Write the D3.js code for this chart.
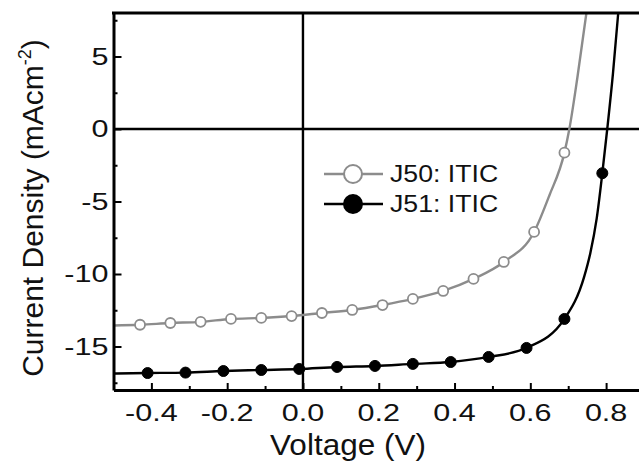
<!DOCTYPE html>
<html>
<head>
<meta charset="utf-8">
<script src="https://cdn.jsdelivr.net/npm/d3@7"></script>
<style>
  html, body { margin: 0; padding: 0; background: #fff; }
  svg { display: block; }
  text { font-family: "Liberation Sans", Arial, Helvetica, sans-serif; fill: #111; }
</style>
</head>
<body>
<svg id="chart" width="639" height="461"></svg>
<script>
// ---- data ----
const j50MarkerV = [-0.43, -0.35, -0.27, -0.19, -0.11, -0.03, 0.05, 0.13, 0.21, 0.29, 0.37, 0.45, 0.53, 0.61, 0.69];
const j50MarkerJ = [-13.5, -13.38, -13.3, -13.1, -13.03, -12.9, -12.69, -12.48, -12.14, -11.72, -11.17, -10.34, -9.17, -7.1, -1.63];
const j50CurveV = [-0.5, -0.43, -0.35, -0.27, -0.19, -0.11, -0.03, 0.05, 0.13, 0.21, 0.29, 0.37, 0.45, 0.53, 0.61, 0.65, 0.69, 0.703, 0.7245, 0.748];
const j50CurveJ = [-13.55, -13.5, -13.38, -13.3, -13.1, -13.03, -12.9, -12.69, -12.48, -12.14, -11.72, -11.17, -10.34, -9.17, -7.1, -4.6, -1.63, 0, 3.6, 8];

const j51MarkerV = [-0.41, -0.31, -0.21, -0.11, -0.01, 0.09, 0.19, 0.29, 0.39, 0.49, 0.59, 0.69, 0.79];
const j51MarkerJ = [-16.83, -16.8, -16.69, -16.62, -16.55, -16.41, -16.34, -16.2, -16.07, -15.72, -15.1, -13.1, -3.05];
const j51CurveV = [-0.5, -0.41, -0.31, -0.21, -0.11, -0.01, 0.09, 0.19, 0.29, 0.39, 0.49, 0.59, 0.69, 0.742, 0.758, 0.775, 0.79, 0.803, 0.818, 0.832];
const j51CurveJ = [-16.86, -16.83, -16.8, -16.69, -16.62, -16.55, -16.41, -16.34, -16.2, -16.07, -15.72, -15.1, -13.1, -10.2, -8.6, -6.2, -3.05, 0, 3.8, 8];

const xTicks = [-0.4, -0.2, 0.0, 0.2, 0.4, 0.6, 0.8];
const xTickLabels = ["-0.4", "-0.2", "0.0", "0.2", "0.4", "0.6", "0.8"];
const xMinorTicks = [-0.5, -0.3, -0.1, 0.1, 0.3, 0.5, 0.7];
const yTicks = [-15, -10, -5, 0, 5];
const yTickLabels = ["-15", "-10", "-5", "0", "5"];
const yMinorTicks = [-17.5, -12.5, -7.5, -2.5, 2.5, 7.5];

const seriesNames = ["J50: ITIC", "J51: ITIC"];
const seriesColors = ["#8c8c8c", "#000000"];

// ---- layout ----
const svg = d3.select("#chart");
const pL = 113.5, pT = 13, pB = 390, pR = 644;
const x = d3.scaleLinear().domain([-0.5, 0.9]).range([pL, pR]);
const y = d3.scaleLinear().domain([-18, 8]).range([pB, pT]);

const plot = svg.append("g");
plot.append("clipPath").attr("id", "clip")
  .append("rect").attr("x", pL).attr("y", pT).attr("width", pR - pL).attr("height", pB - pT);

// zero lines
plot.append("line").attr("x1", pL).attr("x2", pR).attr("y1", y(0)).attr("y2", y(0))
  .attr("stroke", "#000").attr("stroke-width", 2.4);
plot.append("line").attr("x1", x(0)).attr("x2", x(0)).attr("y1", pT).attr("y2", pB)
  .attr("stroke", "#000").attr("stroke-width", 2.4);

// curves
const lineGen = d3.line().x(d => x(d[0])).y(d => y(d[1])).curve(d3.curveMonotoneX);
const curves = [
  d3.zip(j50CurveV, j50CurveJ),
  d3.zip(j51CurveV, j51CurveJ)
];
const dataG = plot.append("g").attr("clip-path", "url(#clip)");
curves.forEach((c, i) => {
  dataG.append("path").datum(c).attr("d", lineGen)
    .attr("fill", "none").attr("stroke", seriesColors[i]).attr("stroke-width", 2.4);
});
// markers
dataG.selectAll("circle.j50").data(d3.zip(j50MarkerV, j50MarkerJ)).enter().append("circle")
  .attr("class", "j50").attr("cx", d => x(d[0])).attr("cy", d => y(d[1])).attr("r", 5)
  .attr("fill", "#fff").attr("stroke", seriesColors[0]).attr("stroke-width", 1.8);
dataG.selectAll("circle.j51").data(d3.zip(j51MarkerV, j51MarkerJ)).enter().append("circle")
  .attr("class", "j51").attr("cx", d => x(d[0])).attr("cy", d => y(d[1])).attr("r", 5.5)
  .attr("fill", "#000").attr("stroke", "#000").attr("stroke-width", 1);

// axes with inward ticks
const xAxis = d3.axisTop(x).tickValues(xTicks).tickFormat((d, i) => xTickLabels[i]).tickSize(7).tickSizeOuter(0);
const gx = svg.append("g").attr("transform", `translate(0,${pB})`).call(xAxis);
gx.selectAll("text").remove();
gx.select(".domain").attr("stroke-width", 3);
gx.selectAll(".tick line").attr("stroke-width", 2);
const xMinor = d3.axisTop(x).tickValues(xMinorTicks).tickFormat("").tickSize(4).tickSizeOuter(0);
const gxm = svg.append("g").attr("transform", `translate(0,${pB})`).call(xMinor);
gxm.select(".domain").remove();
gxm.selectAll(".tick line").attr("stroke-width", 2);
svg.append("g").selectAll("text").data(xTicks).enter().append("text")
  .attr("transform", d => `translate(${x(d)},421) scale(1.3,1)`).attr("text-anchor", "middle")
  .attr("font-size", 23.5).text((d, i) => xTickLabels[i]);

const yAxis = d3.axisRight(y).tickValues(yTicks).tickFormat((d, i) => yTickLabels[i]).tickSize(8).tickSizeOuter(0);
const gy = svg.append("g").attr("transform", `translate(${pL},0)`).call(yAxis);
gy.selectAll("text").remove();
gy.select(".domain").attr("stroke-width", 3);
gy.selectAll(".tick line").attr("stroke-width", 2);
const yMinor = d3.axisRight(y).tickValues(yMinorTicks).tickFormat("").tickSize(4).tickSizeOuter(0);
const gym = svg.append("g").attr("transform", `translate(${pL},0)`).call(yMinor);
gym.select(".domain").remove();
gym.selectAll(".tick line").attr("stroke-width", 2);
svg.append("g").selectAll("text").data(yTicks).enter().append("text")
  .attr("transform", d => `translate(108.5,${y(d)}) scale(1.3,1)`)
  .attr("dy", "0.36em").attr("text-anchor", "end")
  .attr("font-size", 23.5).text((d, i) => yTickLabels[i]);

// top border
svg.append("line").attr("x1", pL - 1.5).attr("x2", pR).attr("y1", pT).attr("y2", pT)
  .attr("stroke", "#000").attr("stroke-width", 3);

// axis titles
svg.append("text").attr("transform", "translate(348,454.5) scale(1.05,1)").attr("text-anchor", "middle")
  .attr("font-size", 30).text("Voltage (V)");
const yt = svg.append("text").attr("transform", "translate(43,208) rotate(-90)")
  .attr("text-anchor", "middle").attr("font-size", 30);
yt.append("tspan").text("Current Density (mAcm");
yt.append("tspan").attr("font-size", 18).attr("dy", -12).text("-2");
yt.append("tspan").attr("dy", 12).text(")");

// legend
const legY = [174, 204];
seriesNames.forEach((name, i) => {
  const g = svg.append("g");
  g.append("line").attr("x1", 324).attr("x2", 383).attr("y1", legY[i]).attr("y2", legY[i])
    .attr("stroke", seriesColors[i]).attr("stroke-width", 2.4);
  g.append("circle").attr("cx", 353).attr("cy", legY[i]).attr("r", 9)
    .attr("fill", i === 0 ? "#fff" : "#000").attr("stroke", seriesColors[i]).attr("stroke-width", 2);
  g.append("text").attr("transform", `translate(390,${legY[i]}) scale(1.16,1)`).attr("dy", "0.36em")
    .attr("font-size", 23).text(name);
});
</script>
</body>
</html>
